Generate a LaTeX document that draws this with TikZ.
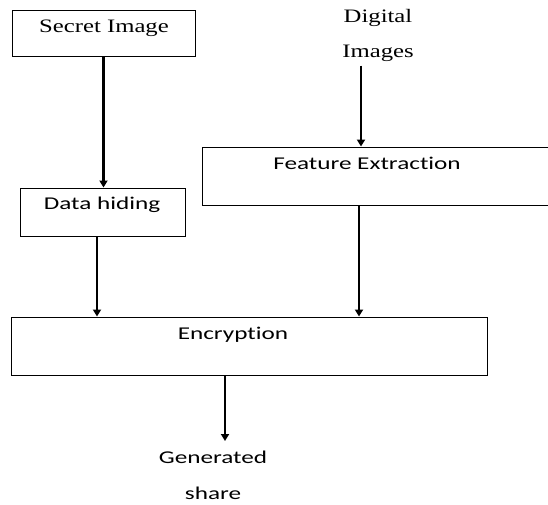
\documentclass[tikz,border=0pt]{standalone}
\usepackage{fontspec}
\newfontfamily\serifface[FakeStretch=1.3]{Liberation Serif}
\newfontfamily\sansface[FakeStretch=1.4,Ligatures=NoCommon]{Carlito}
\usetikzlibrary{arrows.meta, positioning}

\begin{document}
\begin{tikzpicture}[
  x=1pt, y=-1pt,
  box/.style={draw, line width=1pt, inner sep=0pt},
  tag/.style={font=\sansface\fontsize{18}{22}\selectfont, inner sep=0pt, anchor=base},
  rmtag/.style={font=\serifface\fontsize{19}{35}\selectfont, inner sep=0pt, align=center},
  arr/.style={-{Triangle[width=8pt,length=7pt]}, line width=2.2pt}
]
\useasboundingbox (0,0) rectangle (548,504);

% Boxes
\node[box, minimum width=183pt, minimum height=46pt] (secret) at (103.5,33) {};
\node[box, minimum width=165pt, minimum height=48pt] (hide)   at (102.5,212) {};
\node[box, minimum width=350pt, minimum height=58pt] (feat)   at (377,176) {};
\node[box, minimum width=476pt, minimum height=58pt] (encr)   at (249,346) {};

% Texts
\node[rmtag, anchor=base] (secrett) at (104,32) {Secret Image};
\node[rmtag, anchor=north] (digital) at (378,9) {Digital\\Images};
\node[tag] (featt) at (367,169) {Feature Extraction};
\node[tag] (hidet) at (102,209) {Data hiding};
\node[tag] (encrt) at (233,339) {Encryption};
\node[tag, anchor=north, align=center, font=\sansface\fontsize{18}{36}\selectfont] (share) at (213,451) {Generated\\share};

% Arrows
\draw[arr] (secret.south) -- (secret.south |- hide.north);
\draw[arr] ([xshift=-17pt,yshift=-4pt]digital.south) -- ([xshift=-17pt]digital.south |- feat.north);
\draw[arr] ([xshift=-5.5pt]hide.south) -- ([xshift=-5.5pt]hide.south |- encr.north);
\draw[arr] ([xshift=-18pt]feat.south) -- ([xshift=-18pt]feat.south |- encr.north);
\draw[arr] ([xshift=-24pt]encr.south) -- ([xshift=-24pt,yshift=10pt]encr.south |- share.north);

\end{tikzpicture}
\end{document}
